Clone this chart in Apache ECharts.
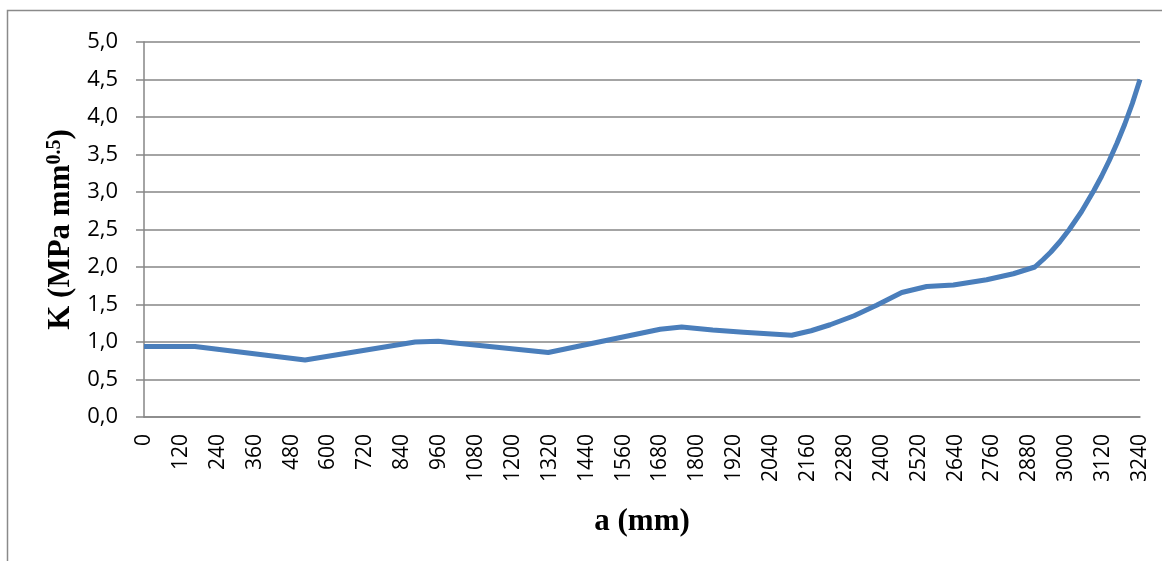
<!DOCTYPE html>
<html>
<head>
<meta charset="utf-8">
<script src="https://cdn.jsdelivr.net/npm/echarts@6/dist/echarts.min.js"></script>
<style>
html,body{margin:0;padding:0;background:#fff;}
#c{width:1162px;height:561px;}
</style>
</head>
<body>
<div id="c"></div>
<script>
// crack length a (mm) and stress intensity K (MPa mm^0.5)
const aValues = [0, 166, 524, 882, 957, 1315, 1679, 1749, 1850, 1950, 2107, 2170, 2232, 2310, 2383, 2465, 2546, 2633, 2741, 2828, 2898,
                 2925, 2950, 2980, 3010, 3030, 3050, 3070, 3090, 3115, 3140, 3165, 3190, 3215, 3240];
const kValues = [0.94, 0.94, 0.76, 1.00, 1.01, 0.86, 1.17, 1.20, 1.16, 1.13, 1.09, 1.15, 1.23, 1.35, 1.49, 1.66, 1.74, 1.76, 1.83, 1.91, 2.00,
                 2.10, 2.20, 2.34, 2.50, 2.62, 2.74, 2.88, 3.02, 3.21, 3.42, 3.65, 3.90, 4.18, 4.50];
const yTicks = [0, 0.5, 1, 1.5, 2, 2.5, 3, 3.5, 4, 4.5, 5];
const xTickStep = 120;

const chart = echarts.init(document.getElementById('c'));
const grid = '#868686';
const blue = '#4a7ebb';
chart.setOption({
  animation: false,
  backgroundColor: '#fff',
  graphic: [{
    type: 'rect', silent: true,
    shape: {x: 7.5, y: 10.5, width: 1300, height: 700},
    style: {fill: 'none', stroke: '#8a8a8a', lineWidth: 1.5}
  }],
  grid: {left: 144, right: 22, top: 42, bottom: 144},
  xAxis: {
    type: 'value', min: 0, max: 3240, interval: xTickStep,
    name: 'a (mm)', nameLocation: 'middle', nameGap: 89,
    nameTextStyle: {fontFamily: 'Liberation Serif', fontWeight: 'bold', fontSize: 31, color: '#000'},
    axisLine: {show: true, lineStyle: {color: grid, width: 1.5}},
    axisTick: {show: false},
    splitLine: {show: false},
    axisLabel: {rotate: 90, margin: 17, fontFamily: 'Open Sans', fontSize: 21, color: '#000',
      formatter: v => String(v)}
  },
  yAxis: {
    type: 'value', min: yTicks[0], max: yTicks[yTicks.length - 1], interval: 0.5,
    name: '{b|K (MPa mm}{s|0.5}{b|)}', nameLocation: 'middle', nameGap: 64, nameRotate: 90,
    nameTextStyle: {
      rich: {
        b: {fontFamily: 'Liberation Serif', fontWeight: 'bold', fontSize: 31, color: '#000'},
        s: {fontFamily: 'Liberation Serif', fontWeight: 'bold', fontSize: 20, color: '#000', verticalAlign: 'top', padding: [0, 0, 12, 0]}
      }
    },
    axisLine: {show: true, lineStyle: {color: grid, width: 1.5}},
    axisTick: {show: true, length: 8, lineStyle: {color: grid, width: 1.5}},
    splitLine: {show: true, lineStyle: {color: grid, width: 1.5}},
    axisLabel: {margin: 26, fontFamily: 'Open Sans', fontSize: 22, color: '#000',
      formatter: v => v.toFixed(1).replace('.', ',')}
  },
  series: [{
    type: 'line', showSymbol: false,
    data: aValues.map((a, i) => [a, kValues[i]]),
    lineStyle: {color: blue, width: 5, join: 'round'}, itemStyle: {color: blue}
  }]
});
</script>
</body>
</html>
